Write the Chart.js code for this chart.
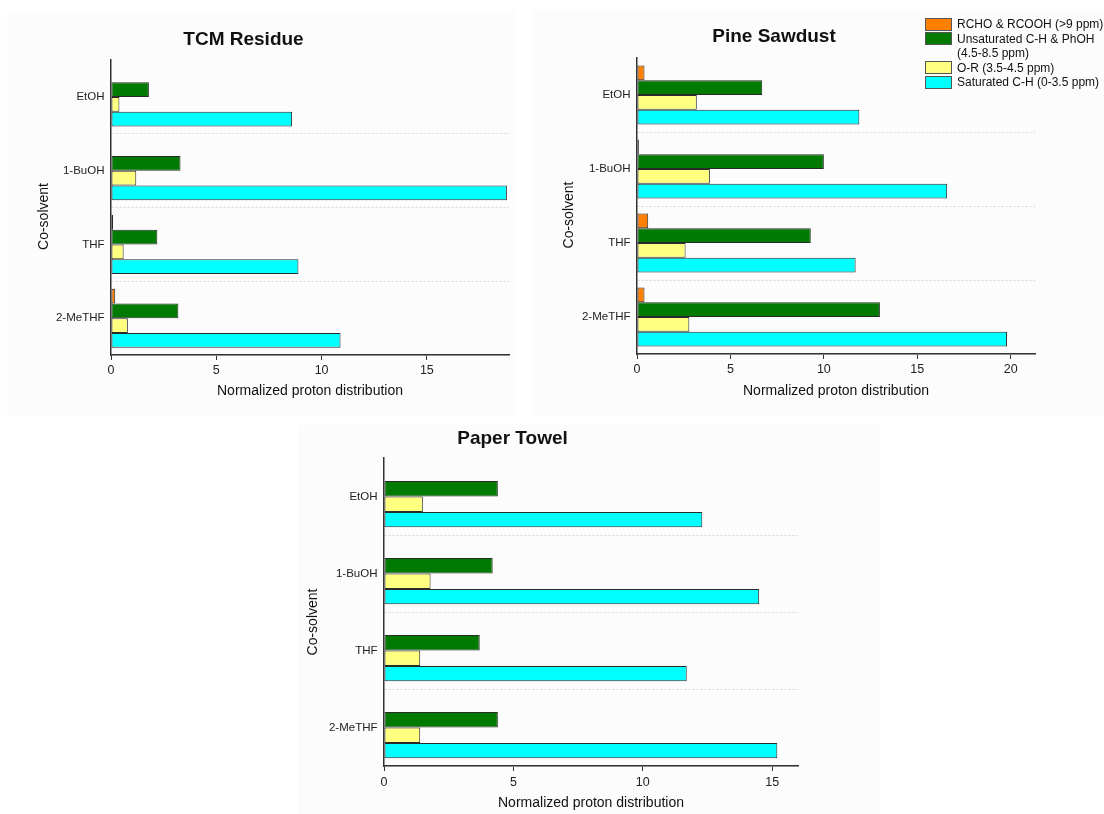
<!DOCTYPE html>
<html>
<head>
<meta charset="utf-8">
<title>Normalized proton distribution by co-solvent</title>
<script src="https://cdn.jsdelivr.net/npm/chart.js@4.4.1/dist/chart.umd.min.js"></script>
<style>
  html, body { margin: 0; padding: 0; background: #ffffff; }
  body { width: 1104px; height: 814px; position: relative; overflow: hidden;
         font-family: "Liberation Sans", Arial, sans-serif; }
  .panel { position: absolute; background: #fcfcfd; }
  .plot { position: absolute; }
  .plot canvas { display: block; }
  #legend { position: absolute; left: 925px; top: 17px; font-size: 12px; line-height: 14.5px; color: #111; z-index: 5; }
  #legend .row { display: flex; align-items: flex-start; }
  #legend .sw { width: 25px; height: 11px; border: 1px solid #555; margin-right: 5px; flex: none; margin-top: 0.5px; }
</style>
</head>
<body>
<div class="panel" style="left:7px;top:12px;width:508px;height:403px"></div>
<div class="panel" style="left:532px;top:10px;width:572px;height:405px"></div>
<div class="panel" style="left:298px;top:425px;width:582px;height:389px"></div>

<div class="plot" style="left:0px;top:0px"><canvas id="tcm" width="520" height="410"></canvas></div>
<div class="plot" style="left:520px;top:0px"><canvas id="pine" width="584" height="410"></canvas></div>
<div class="plot" style="left:280px;top:420px"><canvas id="paper" width="560" height="394"></canvas></div>
<div id="legend"></div>

<script>
// Co-solvents (rows, top to bottom)
const categories = ['EtOH', '1-BuOH', 'THF', '2-MeTHF'];

// Proton classes (legend order)
const seriesNames = [
  'RCHO & RCOOH (>9 ppm)',
  'Unsaturated C-H & PhOH (4.5-8.5 ppm)',
  'O-R (3.5-4.5 ppm)',
  'Saturated C-H (0-3.5 ppm)'
];
const seriesColors = ['#ff8000', '#007a00', '#ffff80', '#00ffff'];

// TCM Residue
const tcmCarbonyl    = [0.0, 0.0, 0.1, 0.2];
const tcmUnsaturated = [1.8, 3.3, 2.2, 3.2];
const tcmEther       = [0.4, 1.2, 0.6, 0.8];
const tcmSaturated   = [8.6, 18.8, 8.9, 10.9];

// Pine Sawdust
const pineCarbonyl    = [0.4, 0.1, 0.6, 0.4];
const pineUnsaturated = [6.7, 10.0, 9.3, 13.0];
const pineEther       = [3.2, 3.9, 2.6, 2.8];
const pineSaturated   = [11.9, 16.6, 11.7, 19.8];

// Paper Towel
const paperCarbonyl    = [0.0, 0.0, 0.0, 0.0];
const paperUnsaturated = [4.4, 4.2, 3.7, 4.4];
const paperEther       = [1.5, 1.8, 1.4, 1.4];
const paperSaturated   = [12.3, 14.5, 11.7, 15.2];

// Axis extents and tick step
const tcmAxisMax = 18.9;
const pineAxisMax = 21.3;
const paperAxisMax = 16.0;
const xTickStep = 5;

const FONT = '"Liberation Sans", Arial, sans-serif';

// Panel title and rotated y-axis title
const panelText = {
  id: 'panelText',
  afterDraw(chart, args, o) {
    const ctx = chart.ctx;
    ctx.save();
    ctx.fillStyle = '#111';
    ctx.textAlign = 'center';
    ctx.textBaseline = 'alphabetic';
    ctx.font = 'bold 19px ' + FONT;
    ctx.fillText(o.title, o.titleX, o.titleY);
    ctx.translate(o.yTitleX, o.yTitleY);
    ctx.rotate(-Math.PI / 2);
    ctx.font = '14px ' + FONT;
    ctx.fillText(o.yTitle, 0, 0);
    ctx.restore();
  }
};

function buildDatasets(groups) {
  return groups.map((values, i) => ({
    label: seriesNames[i],
    data: values,
    backgroundColor: seriesColors[i],
    borderColor: '#2a2a2a',
    // a zero-length bar gets no outline
    borderWidth: (c) => (c.raw ? 1 : 0),
    borderSkipped: false,
    categoryPercentage: 0.8,
    barPercentage: 1.0
  }));
}

function makeChart(id, groups, cfg) {
  return new Chart(document.getElementById(id), {
    type: 'bar',
    data: { labels: categories, datasets: buildDatasets(groups) },
    plugins: [panelText],
    options: {
      indexAxis: 'y',
      responsive: false,
      animation: false,
      devicePixelRatio: 1,
      layout: { padding: { top: cfg.padTop, right: cfg.padRight, left: 0, bottom: 0 } },
      plugins: {
        legend: { display: false },
        tooltip: { enabled: false },
        panelText: cfg.text
      },
      scales: {
        x: {
          type: 'linear',
          min: 0,
          max: cfg.max,
          afterFit(s) { s.height = cfg.xHeight; },
          ticks: { stepSize: xTickStep, includeBounds: false, padding: cfg.tickPad,
                   color: '#222', font: { family: FONT, size: 12.5 } },
          grid: { drawOnChartArea: false, drawTicks: true, tickLength: 5, tickColor: '#333', tickWidth: 1 },
          border: { display: true, color: '#333', width: 1.5 },
          title: { display: true, text: 'Normalized proton distribution', color: '#111',
                   font: { family: FONT, size: 14 }, padding: { top: 0, bottom: cfg.titlePad } }
        },
        y: {
          type: 'category',
          afterFit(s) { s.width = cfg.yWidth; },
          ticks: { padding: 6.5, color: '#222', font: { family: FONT, size: 11.5 } },
          grid: {
            offset: true,
            drawTicks: false,
            lineWidth: 1,
            color: (c) => (c.index === 0 ? 'rgba(0,0,0,0)' : '#d4d6da')
          },
          border: { display: true, color: '#333', width: 1.5, dash: [2, 2] }
        }
      }
    }
  });
}

makeChart('tcm', [tcmCarbonyl, tcmUnsaturated, tcmEther, tcmSaturated], {
  max: tcmAxisMax, padTop: 60, padRight: 11, yWidth: 111, xHeight: 55, tickPad: 3, titlePad: 10,
  text: { title: 'TCM Residue', titleX: 243.5, titleY: 45, yTitle: 'Co-solvent', yTitleX: 47.5, yTitleY: 216.5 }
});

makeChart('pine', [pineCarbonyl, pineUnsaturated, pineEther, pineSaturated], {
  max: pineAxisMax, padTop: 58, padRight: 69, yWidth: 117, xHeight: 56, tickPad: 3, titlePad: 10,
  text: { title: 'Pine Sawdust', titleX: 254, titleY: 41.7, yTitle: 'Co-solvent', yTitleX: 53, yTitleY: 215 }
});

makeChart('paper', [paperCarbonyl, paperUnsaturated, paperEther, paperSaturated], {
  max: paperAxisMax, padTop: 38, padRight: 42, yWidth: 104, xHeight: 48, tickPad: 4.5, titlePad: 2,
  text: { title: 'Paper Towel', titleX: 232.5, titleY: 24, yTitle: 'Co-solvent', yTitleX: 37.3, yTitleY: 202 }
});

// Shared legend
const legend = document.getElementById('legend');
const legendLines = [
  ['RCHO & RCOOH (>9 ppm)'],
  ['Unsaturated C-H & PhOH', '(4.5-8.5 ppm)'],
  ['O-R (3.5-4.5 ppm)'],
  ['Saturated C-H (0-3.5 ppm)']
];
legendLines.forEach((lines, i) => {
  const row = document.createElement('div');
  row.className = 'row';
  const sw = document.createElement('div');
  sw.className = 'sw';
  sw.style.background = seriesColors[i];
  const txt = document.createElement('div');
  lines.forEach((t, k) => {
    if (k) txt.appendChild(document.createElement('br'));
    txt.appendChild(document.createTextNode(t));
  });
  row.appendChild(sw);
  row.appendChild(txt);
  legend.appendChild(row);
});
</script>
</body>
</html>
